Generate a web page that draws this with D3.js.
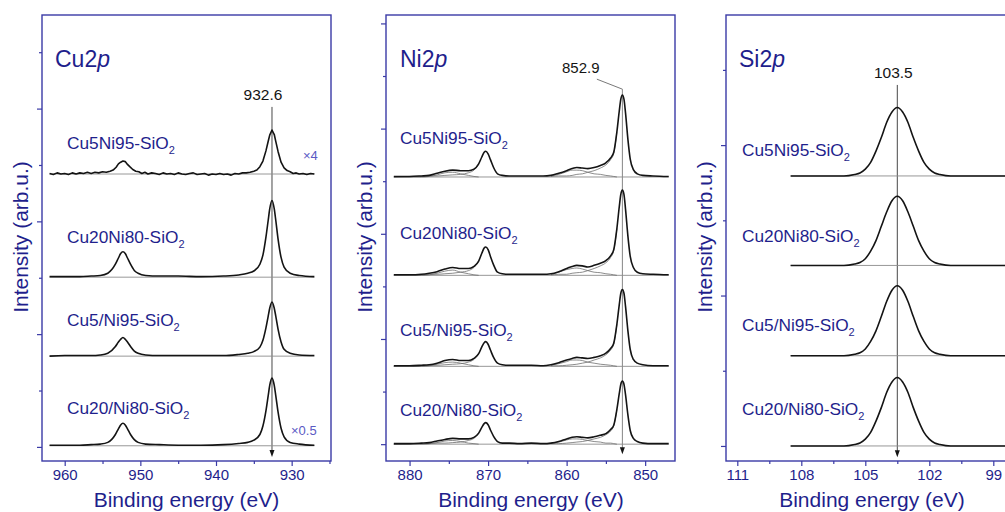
<!DOCTYPE html>
<html><head><meta charset="utf-8">
<script src="https://cdn.jsdelivr.net/npm/d3@7"></script>
<style>
body{margin:0;background:#fff;}
svg{display:block;font-family:"Liberation Sans",Arial,Helvetica,sans-serif;}
</style></head><body>
<svg id="chart" width="1005" height="512"></svg>
<script>
// ================= DATA =================
const sampleNames = ["Cu5Ni95-SiO2", "Cu20Ni80-SiO2", "Cu5/Ni95-SiO2", "Cu20/Ni80-SiO2"];
const panelTitles = ["Cu2", "Ni2", "Si2"];   // followed by italic "p"
const xTitle = "Binding energy (eV)";
const yTitle = "Intensity (arb.u.)";

// tick labels
const cuTicks = [960, 950, 940, 930], cuMinor = [955, 945, 935, 925];
const niTicks = [880, 870, 860, 850], niMinor = [875, 865, 855];
const siTicks = [111, 108, 105, 102, 99], siMinor = [109.5, 106.5, 103.5, 100.5];

// marked peak positions (eV)
const cuPeak = 932.6, niPeak = 852.9, siPeak = 103.5;
const cuScaleNotes = ["\u00d74", "", "", "\u00d70.5"];

// ---- Cu 2p ----
const cuOffset = [4.84, 3.01, 1.61, 0.02];
const cuNoisyE = [962,961.5,961,960.5,960,959.5,959,958.5,958,957.5,957,956.5,956,955.5,
  955,954.5,954,953.6,953.2,952.9,952.6,952.3,952.0,951.7,951.4,951.0,950.6,950.2,949.8,949.4,949,
  948.5,948,947.5,947,946.5,946,945.5,945,944.5,944,943.5,943,942.5,942,941.5,941,940.5,940,939.5,939,938.5,938,937.5,937,936.5,936,
  935.5,935,934.6,934.2,933.8,933.4,933.1,932.9,932.6,932.3,932.1,931.8,931.4,931.0,930.6,930.2,929.8,929.4,929,
  928.5,928,927.5,927];
const cuCu5Ni95 = [0.01,-0.01,0.02,0.00,0.01,-0.01,0.02,0.00,0.02,0.01,0.03,0.01,0.03,0.02,
  0.04,0.03,0.05,0.07,0.12,0.18,0.21,0.23,0.22,0.17,0.13,0.08,0.05,0.04,0.01,0.03,0.00,
  0.02,0.01,-0.01,0.02,0.00,0.01,-0.01,0.02,0.00,-0.01,0.01,0.02,-0.01,0.00,0.01,-0.02,0.00,-0.01,0.01,-0.01,0.00,-0.02,0.01,0.00,0.02,0.02,
  0.03,0.05,0.07,0.13,0.23,0.41,0.58,0.69,0.78,0.70,0.58,0.40,0.21,0.11,0.06,0.04,0.01,0.02,0.00,
  0.01,-0.01,0.01,0.00];
const cuE = [962,960,958,956.5,955.3,954.3,953.3,952.9,952.6,952.3,952.0,951.7,951.3,950.8,950.3,949.3,947.5,945,942,939,
  937,935.8,935,934.2,933.8,933.4,933.1,932.9,932.6,932.3,932.1,931.8,931.4,931.0,930.2,929,927];
const cuCu20Ni80 = [0.01,0.01,0.01,0.02,0.03,0.07,0.23,0.34,0.42,0.45,0.42,0.34,0.23,0.12,0.07,0.03,0.02,0.02,0.01,0.02,
  0.04,0.07,0.11,0.23,0.39,0.71,1.01,1.21,1.36,1.21,1.01,0.68,0.35,0.18,0.07,0.03,0.01];
const cuCu5sNi95 = [0.00,0.01,0.01,0.01,0.02,0.05,0.17,0.25,0.30,0.33,0.30,0.25,0.17,0.09,0.05,0.02,0.01,0.01,0.01,0.01,
  0.03,0.05,0.08,0.16,0.28,0.50,0.71,0.85,0.96,0.85,0.71,0.48,0.25,0.12,0.05,0.02,0.01];
const cuCu20sNi80 = [0.01,0.01,0.01,0.02,0.03,0.06,0.20,0.30,0.37,0.40,0.37,0.30,0.20,0.11,0.06,0.03,0.02,0.01,0.01,0.02,
  0.04,0.06,0.10,0.20,0.35,0.62,0.89,1.07,1.20,1.07,0.89,0.60,0.31,0.16,0.06,0.03,0.01];

// ---- Ni 2p ----
const niOffset = [5.08, 3.21, 1.48, 0.0];
const niE = [882,880,878.5,877.5,876.5,875.5,874.5,873.5,872.5,871.8,871.2,870.8,870.5,870.3,870.0,869.7,869.3,868.8,868.2,867.3,866,864.5,
  863,862,861,860,859.3,858.7,858,857.3,856.5,855.7,855,854.4,854,853.6,853.3,853.1,852.9,852.7,852.5,852.2,851.9,851.5,851,850.3,849,847];
const niCu5Ni95 = [0.01,0.01,0.02,0.03,0.07,0.11,0.13,0.12,0.12,0.15,0.25,0.38,0.47,0.49,0.44,0.33,0.18,0.06,0.03,0.02,0.02,0.02,
  0.02,0.03,0.07,0.12,0.16,0.18,0.17,0.16,0.18,0.22,0.27,0.36,0.47,0.86,1.25,1.48,1.56,1.48,1.22,0.72,0.34,0.14,0.06,0.03,0.02,0.01];
const niCu20Ni80 = [0.01,0.01,0.02,0.04,0.07,0.12,0.15,0.13,0.13,0.17,0.27,0.42,0.52,0.54,0.49,0.36,0.20,0.06,0.03,0.02,0.02,0.02,
  0.02,0.03,0.07,0.13,0.17,0.19,0.18,0.16,0.19,0.23,0.28,0.37,0.49,0.89,1.30,1.54,1.62,1.54,1.26,0.75,0.36,0.15,0.06,0.03,0.02,0.01];
const niCu5sNi95 = [0.01,0.01,0.02,0.03,0.06,0.11,0.13,0.11,0.11,0.15,0.24,0.37,0.45,0.47,0.42,0.31,0.17,0.06,0.03,0.02,0.02,0.02,
  0.01,0.03,0.07,0.12,0.15,0.17,0.16,0.15,0.17,0.20,0.25,0.34,0.44,0.80,1.17,1.39,1.46,1.39,1.14,0.68,0.32,0.13,0.06,0.03,0.01,0.01];
const niCu20sNi80 = [0.01,0.01,0.02,0.03,0.06,0.09,0.11,0.10,0.10,0.13,0.21,0.32,0.39,0.41,0.37,0.27,0.15,0.05,0.02,0.02,0.01,0.02,
  0.01,0.02,0.05,0.10,0.13,0.14,0.13,0.12,0.14,0.17,0.20,0.28,0.36,0.66,0.96,1.14,1.20,1.14,0.94,0.56,0.26,0.11,0.05,0.02,0.01,0.01];
// fitted components (thin lines)
const niCompE3 = [853.6,854.0,854.4,855,855.7,856.5,857.3,858,858.7,859.3,860,861,862];
const niMain3 = [[0.86,0.45,0.33,0.23,0.17,0.12,0.09,0.06,0.05,0.03,0.02,0.02,0.01],
                 [0.89,0.47,0.34,0.24,0.18,0.13,0.09,0.06,0.05,0.04,0.02,0.02,0.01],
                 [0.80,0.42,0.31,0.22,0.16,0.12,0.08,0.06,0.04,0.03,0.02,0.01,0.01],
                 [0.66,0.35,0.25,0.18,0.13,0.10,0.07,0.05,0.04,0.03,0.02,0.01,0.01]];
const niSat3 =  [[0,0.01,0.02,0.03,0.05,0.06,0.09,0.12,0.13,0.13,0.10,0.05,0.02],
                 [0,0.01,0.02,0.03,0.05,0.06,0.09,0.12,0.14,0.13,0.11,0.06,0.02],
                 [0,0.01,0.02,0.03,0.04,0.06,0.08,0.11,0.12,0.12,0.09,0.05,0.02],
                 [0,0.01,0.02,0.02,0.04,0.05,0.07,0.09,0.10,0.10,0.08,0.04,0.02]];
const niCompE1 = [871.2,871.8,872.5,873.5,874.5,875.5,876.5,877.5,878.5,880,882];
const niMain1 = [[0.24,0.13,0.08,0.05,0.04,0.03,0.02,0.02,0.01,0.01,0.00],
                 [0.27,0.15,0.09,0.06,0.04,0.03,0.02,0.02,0.01,0.01,0.01],
                 [0.23,0.13,0.08,0.05,0.04,0.03,0.02,0.02,0.01,0.01,0.00],
                 [0.20,0.11,0.07,0.04,0.03,0.02,0.02,0.01,0.01,0.01,0.00]];
const niSat1 =  [[0,0.01,0.03,0.06,0.09,0.08,0.04,0.01,0,0,0],
                 [0,0.01,0.03,0.06,0.10,0.08,0.04,0.01,0,0,0],
                 [0,0.01,0.03,0.06,0.08,0.07,0.04,0.01,0,0,0],
                 [0,0.01,0.02,0.05,0.07,0.06,0.03,0.01,0,0,0]];

// ---- Si 2p ----
const siOffset = [3.59, 2.40, 1.20, 0.0];
const siE = [108.5,107,106,105.5,105.25,105,104.75,104.5,104.25,104,103.75,103.5,103.25,103,102.75,102.5,102.25,102,101.75,101.5,101,100,98.5,97.5];
const siCu5Ni95  = [0,0,0,0.02,0.04,0.09,0.18,0.33,0.51,0.71,0.85,0.91,0.85,0.71,0.51,0.33,0.18,0.09,0.04,0.02,0,0,0,0];
const siCu20Ni80 = [0,0,0,0.02,0.04,0.09,0.19,0.33,0.52,0.71,0.86,0.92,0.86,0.71,0.52,0.33,0.19,0.09,0.04,0.02,0,0,0,0];
const siCu5sNi95 = [0,0,0,0.02,0.04,0.09,0.19,0.33,0.52,0.72,0.87,0.93,0.87,0.72,0.52,0.33,0.19,0.09,0.04,0.02,0,0,0,0];
const siCu20sNi80= [0,0,0,0.02,0.04,0.09,0.18,0.33,0.51,0.71,0.85,0.91,0.85,0.71,0.51,0.33,0.18,0.09,0.04,0.02,0,0,0,0];

// ================= LAYOUT / STYLE =================
const NAVY = "#1f1f8c", FRAME = "#3a3aa6", INK = "#141414", GREY = "#8c8c8c", NOTE = "#5a5ac4";
const TOP = 15, BOTTOM = 461;
const panels = [
  { key:"cu", x0:42, x1:331, xDom:[963,924.8], yDom:[-0.25,7.66], yTicks:d3.range(0,8),
    ticks:cuTicks, minor:cuMinor, titleX:55, xTitleX:186.5, yTitleX:28, labelX:67, labelY:[149,243,326,414] },
  { key:"ni", x0:386, x1:675, xDom:[883,846.2], yDom:[-0.32,8.16], yTicks:d3.range(0,9),
    ticks:niTicks, minor:niMinor, titleX:400, xTitleX:531, yTitleX:372, labelX:400, labelY:[144,239,336,416] },
  { key:"si", x0:726, x1:1025.3, xDom:[111.53,97.5], yDom:[-0.2,5.73], yTicks:d3.range(0,6),
    ticks:siTicks, minor:siMinor, titleX:739, xTitleX:872, yTitleX:712, labelX:742, labelY:[156,242,331,415] }
];

const svg = d3.select("#chart");

function frameAndAxes(p, i, x, y) {
  const g = svg.append("g");
  const xb = g.append("g").attr("transform", `translate(0,${BOTTOM})`)
    .call(d3.axisBottom(x).tickValues(p.ticks).tickSize(5).tickPadding(3).tickFormat(d3.format("d")));
  const xm = g.append("g").attr("transform", `translate(0,${BOTTOM})`)
    .call(d3.axisBottom(x).tickValues(p.minor).tickSize(3).tickFormat(""));
  const yMaj = p.yTicks.filter(v => v % 2 === 0), yMin = p.yTicks.filter(v => v % 2 === 1);
  const yl = g.append("g").attr("transform", `translate(${p.x0},0)`)
    .call(d3.axisLeft(y).tickValues(yMaj).tickSize(5).tickFormat(""));
  const yl2 = g.append("g").attr("transform", `translate(${p.x0},0)`)
    .call(d3.axisLeft(y).tickValues(yMin).tickSize(3).tickFormat(""));
  [xb, xm, yl, yl2].forEach(a => {
    a.select(".domain").remove();
    a.selectAll("line").attr("stroke", FRAME).attr("stroke-width", 1.2);
    a.selectAll("text").attr("fill", NAVY).attr("font-size", 15)
      .attr("font-family", "'Liberation Sans',Arial,sans-serif");
  });
  g.append("rect").attr("x", p.x0).attr("y", TOP).attr("width", p.x1 - p.x0).attr("height", BOTTOM - TOP)
    .attr("fill", "none").attr("stroke", FRAME).attr("stroke-width", 1.4);
  g.append("text").attr("x", p.xTitleX).attr("y", 507)
    .attr("text-anchor", "middle").attr("font-size", 21).attr("fill", NAVY).text(xTitle);
  g.append("text").attr("transform", `translate(${p.yTitleX},237) rotate(-90)`)
    .attr("text-anchor", "middle").attr("font-size", 21).attr("fill", NAVY).text(yTitle);
  const t = g.append("text").attr("x", p.titleX).attr("y", 67).attr("font-size", 23).attr("fill", NAVY);
  t.append("tspan").text(panelTitles[i]);
  t.append("tspan").attr("font-style", "italic").text("p");
}

function sampleLabel(p, k) {
  const name = sampleNames[k];
  const t = svg.append("text").attr("x", p.labelX).attr("y", p.labelY[k]).attr("font-size", 17.3).attr("fill", NAVY);
  t.append("tspan").text(name.slice(0, -1));
  t.append("tspan").attr("font-size", 11).attr("dy", 5).text(name.slice(-1));
}

function arrowDown(xp, yTip) {
  svg.append("path").attr("d", `M${xp - 2.5},${yTip - 7}L${xp + 2.5},${yTip - 7}L${xp},${yTip}Z`).attr("fill", INK);
}

function drawSpectra(p, x, y, series, offsets, comps) {
  const smooth = d3.line().x(d => x(d[0])).y(d => y(d[1])).curve(d3.curveMonotoneX);
  const lin = d3.line().x(d => x(d[0])).y(d => y(d[1]));
  series.forEach((s, k) => {
    const off = offsets[k];
    const e0 = s.E[0], e1 = s.E[s.E.length - 1];
    svg.append("path").attr("d", lin([[e0, off], [e1, off]]))
      .attr("stroke", GREY).attr("stroke-width", 0.9).attr("fill", "none");
    if (comps) comps(k, off).forEach(c => {
      svg.append("path").attr("d", smooth(c.E.map((e, j) => [e, off + c.I[j]])))
        .attr("stroke", "#6e6e6e").attr("stroke-width", 0.8).attr("fill", "none");
    });
    svg.append("path").attr("d", (s.noisy ? lin : smooth)(s.E.map((e, j) => [e, off + s.I[j]])))
      .attr("stroke", INK).attr("stroke-width", 1.6).attr("fill", "none").attr("stroke-linejoin", "round");
  });
}

// ---------- Cu panel ----------
{
  const p = panels[0];
  const x = d3.scaleLinear().domain(p.xDom).range([p.x0, p.x1]);
  const y = d3.scaleLinear().domain(p.yDom).range([BOTTOM, TOP]);
  frameAndAxes(p, 0, x, y);
  const series = [
    { E: cuNoisyE, I: cuCu5Ni95, noisy: true },
    { E: cuE, I: cuCu20Ni80 }, { E: cuE, I: cuCu5sNi95 }, { E: cuE, I: cuCu20sNi80 }];
  svg.append("line").attr("x1", x(cuPeak)).attr("x2", x(cuPeak)).attr("y1", y(6.03)).attr("y2", y(-0.18) - 5)
    .attr("stroke", "#333").attr("stroke-width", 0.9);
  arrowDown(x(cuPeak), y(-0.18));
  drawSpectra(p, x, y, series, cuOffset);
  svg.append("text").attr("x", x(cuPeak) - 9).attr("y", 100).attr("text-anchor", "middle")
    .attr("font-size", 15.5).attr("fill", INK).text(cuPeak.toFixed(1));
  sampleNames.forEach((n, k) => sampleLabel(p, k));
  svg.append("text").attr("x", 303).attr("y", 160).attr("font-size", 13).attr("fill", NOTE).text(cuScaleNotes[0]);
  svg.append("text").attr("x", 291).attr("y", 435).attr("font-size", 13).attr("fill", NOTE).text(cuScaleNotes[3]);
}

// ---------- Ni panel ----------
{
  const p = panels[1];
  const x = d3.scaleLinear().domain(p.xDom).range([p.x0, p.x1]);
  const y = d3.scaleLinear().domain(p.yDom).range([BOTTOM, TOP]);
  frameAndAxes(p, 1, x, y);
  const series = [
    { E: niE, I: niCu5Ni95 }, { E: niE, I: niCu20Ni80 }, { E: niE, I: niCu5sNi95 }, { E: niE, I: niCu20sNi80 }];
  svg.append("path").attr("d", d3.line()([[x(856.15), y(6.94)], [x(niPeak), y(6.75)]]))
    .attr("stroke", "#555").attr("stroke-width", 0.8).attr("fill", "none");
  svg.append("line").attr("x1", x(niPeak)).attr("x2", x(niPeak)).attr("y1", y(6.75)).attr("y2", y(-0.19) - 5)
    .attr("stroke", "#777").attr("stroke-width", 0.9);
  arrowDown(x(niPeak), y(-0.19));
  drawSpectra(p, x, y, series, niOffset, k => [
    { E: niCompE3, I: niMain3[k] }, { E: niCompE3, I: niSat3[k] },
    { E: niCompE1, I: niMain1[k] }, { E: niCompE1, I: niSat1[k] }]);
  svg.append("text").attr("x", x(858.2)).attr("y", 73).attr("text-anchor", "middle")
    .attr("font-size", 15).attr("fill", INK).text(niPeak.toFixed(1));
  sampleNames.forEach((n, k) => sampleLabel(p, k));
}

// ---------- Si panel ----------
{
  const p = panels[2];
  const x = d3.scaleLinear().domain(p.xDom).range([p.x0, p.x1]);
  const y = d3.scaleLinear().domain(p.yDom).range([BOTTOM, TOP]);
  frameAndAxes(p, 2, x, y);
  const series = [
    { E: siE, I: siCu5Ni95 }, { E: siE, I: siCu20Ni80 }, { E: siE, I: siCu5sNi95 }, { E: siE, I: siCu20sNi80 }];
  svg.append("line").attr("x1", x(siPeak)).attr("x2", x(siPeak)).attr("y1", y(4.8)).attr("y2", y(-0.15) - 5)
    .attr("stroke", "#333").attr("stroke-width", 0.9);
  arrowDown(x(siPeak), y(-0.15));
  drawSpectra(p, x, y, series, siOffset);
  svg.append("text").attr("x", x(siPeak) - 4).attr("y", 78).attr("text-anchor", "middle")
    .attr("font-size", 15.5).attr("fill", INK).text(siPeak.toFixed(1));
  sampleNames.forEach((n, k) => sampleLabel(p, k));
}
</script>
</body></html>
